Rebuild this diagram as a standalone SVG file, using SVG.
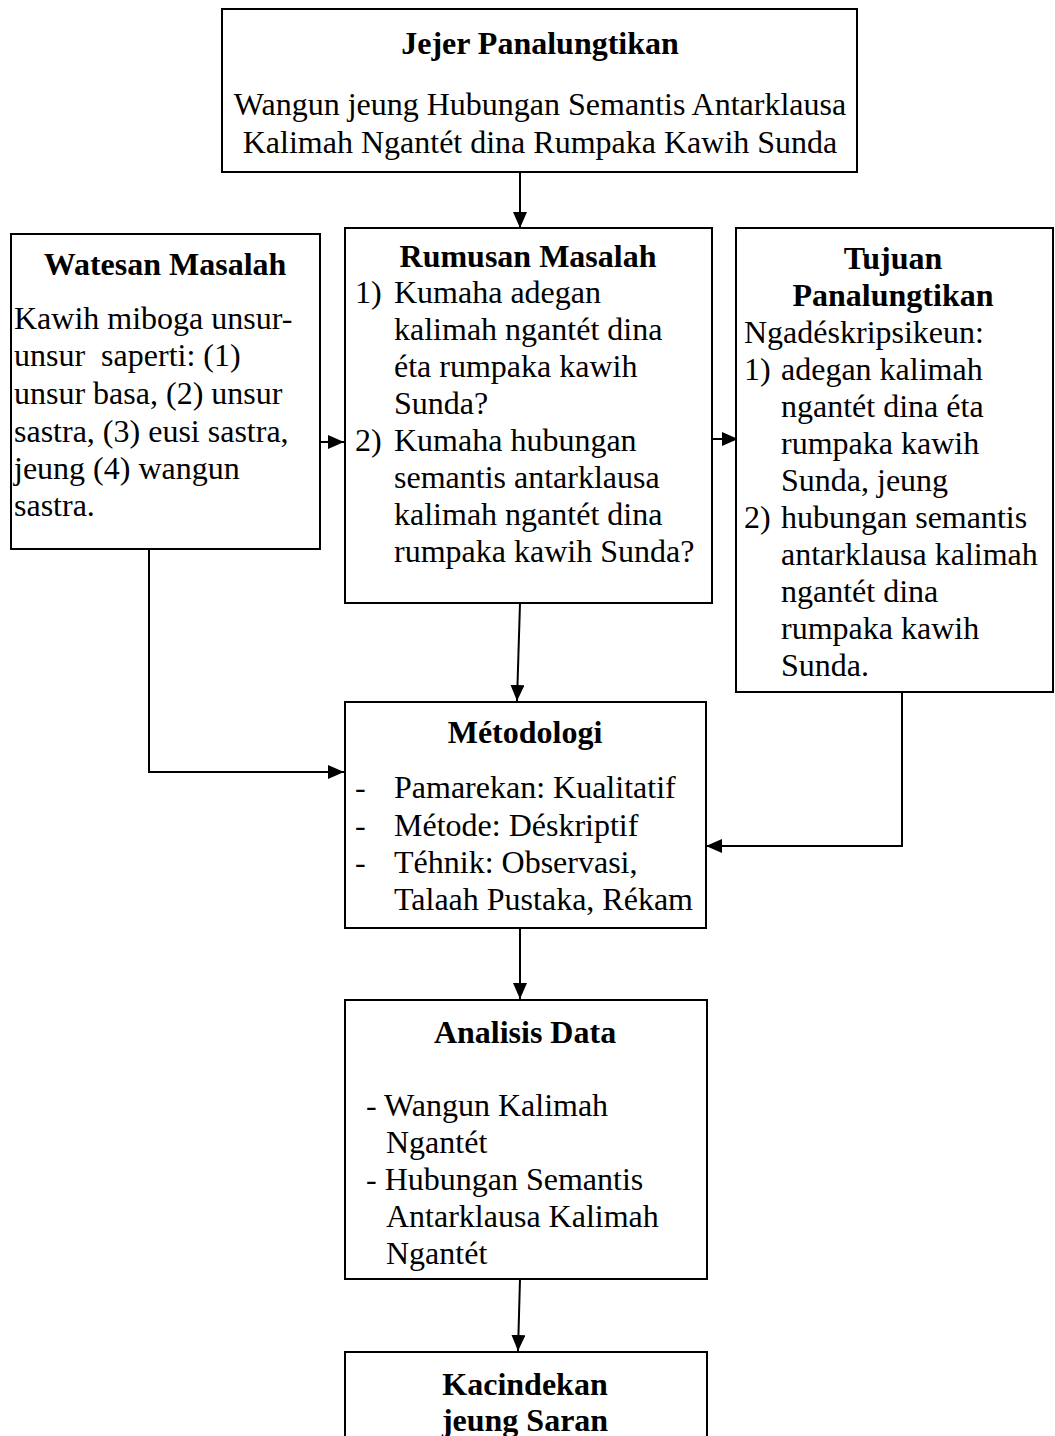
<svg xmlns="http://www.w3.org/2000/svg" width="1055" height="1436" viewBox="0 0 1055 1436">
<style>
.box{fill:#fff;stroke:#000;stroke-width:2}
.t{font-family:"Liberation Serif","Times New Roman",serif;font-size:32px;fill:#000}
.b{font-weight:bold}
.c{text-anchor:middle}
.conn{fill:none;stroke:#000;stroke-width:2}
</style>
<defs>
<marker id="ah" markerUnits="userSpaceOnUse" markerWidth="16" markerHeight="14" refX="16" refY="7" orient="auto">
<path d="M0,0 L16,7 L0,14 z" fill="#000"/>
</marker>
</defs>
<rect width="1055" height="1436" fill="#fff"/>
<g id="connectors">
<line class="conn" x1="520" y1="172" x2="520" y2="228" marker-end="url(#ah)"/>
<line class="conn" x1="315" y1="442" x2="344" y2="442" marker-end="url(#ah)"/>
<line class="conn" x1="712" y1="439" x2="738" y2="439" marker-end="url(#ah)"/>
<line class="conn" x1="520" y1="603" x2="517" y2="701" marker-end="url(#ah)"/>
<polyline class="conn" points="149,549 149,772 344,772" marker-end="url(#ah)"/>
<polyline class="conn" points="902,692 902,846 706,846" marker-end="url(#ah)"/>
<line class="conn" x1="520" y1="928" x2="520" y2="999" marker-end="url(#ah)"/>
<line class="conn" x1="520" y1="1279" x2="518" y2="1351" marker-end="url(#ah)"/>
</g>
<g id="jejer">
<rect class="box" x="222" y="9" width="635" height="163"/>
<text class="t b c" x="540" y="54">Jejer Panalungtikan</text>
<text class="t c" x="540" y="115">Wangun jeung Hubungan Semantis Antarklausa</text>
<text class="t c" x="540" y="153">Kalimah Ngantét dina Rumpaka Kawih Sunda</text>
</g>
<g id="watesan">
<rect class="box" x="11" y="234" width="309" height="315"/>
<text class="t b c" x="165" y="275">Watesan Masalah</text>
<text class="t" x="14" y="329">Kawih miboga unsur-</text>
<text class="t" x="14" y="366" xml:space="preserve">unsur  saperti: (1)</text>
<text class="t" x="14" y="404">unsur basa, (2) unsur</text>
<text class="t" x="14" y="442">sastra, (3) eusi sastra,</text>
<text class="t" x="14" y="479">jeung (4) wangun</text>
<text class="t" x="14" y="516">sastra.</text>
</g>
<g id="rumusan">
<rect class="box" x="345" y="228" width="367" height="375"/>
<text class="t b c" x="528" y="267">Rumusan Masalah</text>
<text class="t" x="355" y="303">1)</text>
<text class="t" x="394" y="303">Kumaha adegan</text>
<text class="t" x="394" y="340">kalimah ngantét dina</text>
<text class="t" x="394" y="377">éta rumpaka kawih</text>
<text class="t" x="394" y="414">Sunda?</text>
<text class="t" x="355" y="451">2)</text>
<text class="t" x="394" y="451">Kumaha hubungan</text>
<text class="t" x="394" y="488">semantis antarklausa</text>
<text class="t" x="394" y="525">kalimah ngantét dina</text>
<text class="t" x="394" y="562">rumpaka kawih Sunda?</text>
</g>
<g id="tujuan">
<rect class="box" x="736" y="228" width="317" height="464"/>
<text class="t b c" x="893" y="269">Tujuan</text>
<text class="t b c" x="893" y="306">Panalungtikan</text>
<text class="t" x="744" y="343">Ngadéskripsikeun:</text>
<text class="t" x="744" y="380">1)</text>
<text class="t" x="781" y="380">adegan kalimah</text>
<text class="t" x="781" y="417">ngantét dina éta</text>
<text class="t" x="781" y="454">rumpaka kawih</text>
<text class="t" x="781" y="491">Sunda, jeung</text>
<text class="t" x="744" y="528">2)</text>
<text class="t" x="781" y="528">hubungan semantis</text>
<text class="t" x="781" y="565">antarklausa kalimah</text>
<text class="t" x="781" y="602">ngantét dina</text>
<text class="t" x="781" y="639">rumpaka kawih</text>
<text class="t" x="781" y="676">Sunda.</text>
</g>
<g id="metodologi">
<rect class="box" x="345" y="702" width="361" height="226"/>
<text class="t b c" x="525" y="743">Métodologi</text>
<text class="t" x="355" y="798">-</text>
<text class="t" x="394" y="798">Pamarekan: Kualitatif</text>
<text class="t" x="355" y="836">-</text>
<text class="t" x="394" y="836">Métode: Déskriptif</text>
<text class="t" x="355" y="873">-</text>
<text class="t" x="394" y="873">Téhnik: Observasi,</text>
<text class="t" x="394" y="910">Talaah Pustaka, Rékam</text>
</g>
<g id="analisis">
<rect class="box" x="345" y="1000" width="362" height="279"/>
<text class="t b c" x="525" y="1043">Analisis Data</text>
<text class="t" x="366" y="1116">- Wangun Kalimah</text>
<text class="t" x="386" y="1153">Ngantét</text>
<text class="t" x="366" y="1190">- Hubungan Semantis</text>
<text class="t" x="386" y="1227">Antarklausa Kalimah</text>
<text class="t" x="386" y="1264">Ngantét</text>
</g>
<g id="kacindekan">
<rect class="box" x="345" y="1352" width="362" height="100"/>
<text class="t b c" x="525" y="1395">Kacindekan</text>
<text class="t b c" x="525" y="1431">jeung Saran</text>
</g>
</svg>
